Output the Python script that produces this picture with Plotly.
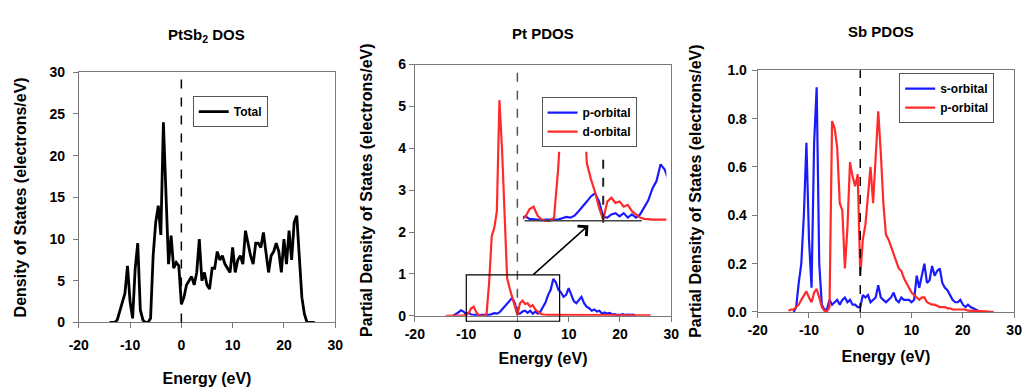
import numpy as np
import plotly.graph_objects as go

# Energy grid (eV), -14 ... 26 in 0.5 eV steps
energy = np.arange(-14, 26.5, 0.5)

# PtSb2 total DOS (electrons/eV)
total_dos = [
    0, 0, 0, 0.3, 1.3, 2.2, 3.5, 6.8, 2.5, 0.5,          # -14 .. -9.5
    6.5, 9.5, 1.5, 0.3, 0, 0, 0.5, 8, 12, 14,            # -9 .. -4.5
    10.5, 24, 16, 7, 10.4, 6.5, 7.2, 6.8, 2.2, 3,        # -4 .. 0.5
    4.5, 5, 5.5, 4.5, 6, 10, 5, 6, 4.5, 4,               # 1 .. 5.5
    6.5, 6.5, 8.5, 7.5, 8, 7, 6.5, 6, 9, 6,              # 6 .. 10.5
    7.5, 8, 7, 11, 9.5, 8, 7, 9.5, 9.5, 9,               # 11 .. 15.5
    10.8, 8.5, 6, 8, 8.5, 9.5, 8.5, 6, 10, 7,            # 16 .. 20.5
    11, 7.5, 12, 12.8, 8, 3, 1, 0, 0, 0,                 # 21 .. 25.5
    0,                                                   # 26
]

# Pt partial DOS
pt_p_orbital = [
    None, None, None, 0.0, 0.03, 0.08, 0.13, 0.10, 0.04, 0.07,
    0.03, 0.02, 0.01, 0.01, 0.02, 0.02, 0.03, 0.02, 0.04, 0.06,
    0.05, 0.08, 0.15, 0.22, 0.30, 0.38, 0.43, 0.30, 0.06, 0.05,
    0.10, 0.12, 0.07, 0.12, 0.05, 0.10, 0.05, 0.10, 0.20, 0.32,
    0.50, 0.62, 0.88, 0.80, 0.62, 0.56, 0.45, 0.50, 0.66, 0.48,
    0.35, 0.30, 0.38, 0.45, 0.30, 0.22, 0.18, 0.12, 0.15, 0.10,
    0.12, 0.05, 0.08, 0.05, 0.07, 0.03, 0.04, 0.02, 0.02, 0.04,
    0.02, 0.03, 0.02, 0.03, 0.01, None, None, None, None, None,
    None,
]
pt_d_orbital = [
    0.0, 0.0, 0.0, 0.0, 0.0, 0.0, 0.01, 0.01, 0.02, 0.06,
    0.18, 0.22, 0.08, 0.02, 0.0, 0.0, 0.05, 0.80, 1.90, 2.10,
    2.50, 5.15, 4.00, 2.20, 0.90, 0.65, 0.45, 0.20, 0.02, 0.30,
    0.36, 0.28, 0.30, 0.22, 0.25, 0.15, 0.10, 0.05, 0.03, 0.02,
    0.02, 0.02, 0.02, 0.02, 0.02, 0.02, 0.02, 0.02, 0.02, 0.02,
    0.02, 0.02, 0.02, 0.02, 0.02, 0.01, 0.01, 0.01, 0.01, 0.01,
    0.01, 0.01, 0.01, 0.01, 0.01, 0.01, 0.01, 0.01, 0.01, 0.01,
    0.01, 0.01, 0.01, 0.01, 0.01, 0.01, 0.01, 0.01, 0.01, 0.01,
    0.01,
]

# Sb partial DOS
sb_s_orbital = [
    None, None, 0.0, 0.02, 0.12, 0.20, 0.40, 0.70, 0.30, 0.10,
    0.70, 0.93, 0.20, 0.03, 0.01, 0.01, 0.05, 0.03, 0.04, 0.05,
    0.03, 0.05, 0.06, 0.04, 0.05, 0.03, 0.03, 0.02, 0.02, 0.07,
    0.06, 0.07, 0.04, 0.05, 0.06, 0.11, 0.06, 0.05, 0.04, 0.05,
    0.06, 0.08, 0.05, 0.04, 0.06, 0.05, 0.05, 0.05, 0.04, 0.05,
    0.15, 0.10, 0.15, 0.20, 0.12, 0.13, 0.19, 0.15, 0.17, 0.18,
    0.12, 0.10, 0.09, 0.07, 0.05, 0.04, 0.04, 0.05, 0.03, 0.02,
    0.03, 0.02, 0.015, 0.01, 0.005, 0.0, None, None, None, None,
    None,
]
sb_p_orbital = [
    0.005, 0.01, 0.01, 0.02, 0.03, 0.05, 0.07, 0.085, 0.06, 0.04,
    0.08, 0.095, 0.06, 0.02, 0.005, 0.002, 0.02, 0.79, 0.76, 0.68,
    0.45, 0.42, 0.18, 0.35, 0.62, 0.56, 0.52, 0.57, 0.15, 0.30,
    0.36, 0.50, 0.60, 0.45, 0.62, 0.83, 0.66, 0.45, 0.32, 0.30,
    0.27, 0.24, 0.21, 0.18, 0.17, 0.14, 0.12, 0.10, 0.08, 0.07,
    0.06, 0.05, 0.06, 0.06, 0.04, 0.035, 0.03, 0.03, 0.025, 0.02,
    0.02, 0.02, 0.015, 0.015, 0.01, 0.01, 0.01, 0.01, 0.01, 0.01,
    0.005, 0.005, 0.005, 0.005, 0.003, 0.003, 0.002, 0.002, 0.001, 0.0,
    0.0,
]

x_tickvals = [-20, -10, 0, 10, 20, 30]
x_ticktext = ["-20", "-10", "0", "10", "20", "30"]

FONT = "Liberation Sans, Arial, sans-serif"
BLUE = "#1a1aff"
RED = "#ff2a2a"
W, H = 1030, 388


def px(x):
    return x / W


def py(y):
    return 1 - y / H


fig = go.Figure()

# Panel 1
fig.add_trace(go.Scatter(x=energy, y=total_dos, mode="lines", name="Total",
                         line=dict(color="black", width=2.8),
                         xaxis="x", yaxis="y", legend="legend"))
# Panel 2
fig.add_trace(go.Scatter(x=energy, y=pt_p_orbital, mode="lines", name="p-orbital",
                         line=dict(color=BLUE, width=2.2),
                         xaxis="x2", yaxis="y2", legend="legend2"))
fig.add_trace(go.Scatter(x=energy, y=pt_d_orbital, mode="lines", name="d-orbital",
                         line=dict(color=RED, width=2.2),
                         xaxis="x2", yaxis="y2", legend="legend2"))
# Inset of panel 2
fig.add_trace(go.Scatter(x=energy, y=pt_p_orbital, mode="lines", showlegend=False,
                         line=dict(color=BLUE, width=2.2),
                         xaxis="x4", yaxis="y4"))
fig.add_trace(go.Scatter(x=energy, y=pt_d_orbital, mode="lines", showlegend=False,
                         line=dict(color=RED, width=2.2),
                         xaxis="x4", yaxis="y4"))
# Panel 3
fig.add_trace(go.Scatter(x=energy, y=sb_s_orbital, mode="lines", name="s-orbital",
                         line=dict(color=BLUE, width=2.2),
                         xaxis="x3", yaxis="y3", legend="legend3"))
fig.add_trace(go.Scatter(x=energy, y=sb_p_orbital, mode="lines", name="p-orbital",
                         line=dict(color=RED, width=2.2),
                         xaxis="x3", yaxis="y3", legend="legend3"))

tickfont = dict(family=FONT, size=14, color="black", weight="bold")
titlefont = dict(family=FONT, size=16, color="black", weight="bold")
paneltitlefont = dict(family=FONT, size=15, color="black", weight="bold")

ax_common = dict(showline=True, linecolor="#7a7a7a", linewidth=1, mirror=True,
                 ticks="outside", ticklen=5, tickcolor="#7a7a7a",
                 showgrid=False, zeroline=False, tickfont=tickfont)


def xax(domain, anchor, standoff, labelgap):
    return dict(ax_common, domain=domain, anchor=anchor, range=[-20, 30],
                tickvals=x_tickvals, ticktext=x_ticktext,
                ticklabelstandoff=labelgap,
                title=dict(text="Energy (eV)", font=titlefont, standoff=standoff))


def yax(domain, anchor, rng, dtick, title, standoff, labelgap, fmt=None):
    d = dict(ax_common, domain=domain, anchor=anchor, range=rng, dtick=dtick, tick0=0,
             ticklabelstandoff=labelgap,
             title=dict(text=title, font=titlefont, standoff=standoff))
    if fmt:
        d["tickformat"] = fmt
    return d


legend_common = dict(bgcolor="white", bordercolor="#555555", borderwidth=1,
                     font=dict(family=FONT, size=12, color="black", weight="bold"),
                     xanchor="left", yanchor="top", itemwidth=30,
                     tracegroupgap=0)

fig.update_layout(
    width=W, height=H,
    margin=dict(l=0, r=0, t=0, b=0),
    paper_bgcolor="white", plot_bgcolor="white",
    xaxis=xax([px(70), px(331)], "y", 20, 5),
    yaxis=yax([py(328), py(67)], "x", [0, 30], 5,
              "Density of States (electrons/eV)", 18, 5),
    xaxis2=xax([px(412), px(673)], "y2", 12, 0),
    yaxis2=yax([py(321), py(59)], "x2", [0, 6], 1,
               "Partial Density of States (electrons/eV)", 21, 0),
    xaxis3=xax([px(761), px(1022)], "y3", 14, 0),
    yaxis3=yax([py(317), py(65)], "x3", [0, 1.0], 0.2,
               "Partial Density of States (electrons/eV)", 21, 2, fmt=".1f"),
    xaxis4=dict(domain=[px(522), px(668)], anchor="y4", range=[-9.8, 7.7],
                visible=False, showgrid=False, zeroline=False),
    yaxis4=dict(domain=[py(225), py(150)], anchor="x4", range=[-0.045, 1.075],
                visible=False, showgrid=False, zeroline=False),
    legend=dict(legend_common, x=px(186), y=py(92)),
    legend2=dict(legend_common, x=px(541), y=py(93)),
    legend3=dict(legend_common, x=px(905), y=py(68)),
    showlegend=True,
)

# Fermi level (E = 0) dashed markers
fig.add_shape(type="line", xref="x", yref="y domain", x0=0, x1=0, y0=0, y1=1,
              line=dict(color="black", width=1.5, dash="dash"))
fig.add_shape(type="line", xref="x2", yref="y2 domain", x0=0, x1=0, y0=0, y1=1,
              line=dict(color="#555555", width=1.5, dash="dash"))
fig.add_shape(type="line", xref="x3", yref="y3 domain", x0=0, x1=0, y0=0, y1=1,
              line=dict(color="black", width=1.5, dash="dash"))
fig.add_shape(type="line", xref="x4", yref="y4", x0=0, x1=0, y0=-0.03, y1=0.97,
              line=dict(color="#222222", width=2, dash="dash"))
# Inset baseline
fig.add_shape(type="line", xref="x4", yref="y4", x0=-9.6, x1=4.7, y0=0, y1=0,
              line=dict(color="#444444", width=1.5))
# Zoomed region box in panel 2
fig.add_shape(type="rect", xref="x2", yref="paper", x0=-9.96, x1=8.24,
              y0=py(326.7), y1=py(278.3), line=dict(color="black", width=1.2))

# Arrow to inset
fig.add_annotation(x=13.85, y=2.16, xref="x2", yref="y2", text="",
                   showarrow=True, arrowhead=4, arrowsize=1.6, arrowwidth=1.6,
                   arrowcolor="black", ax=-56.6, ay=50.6)

# Panel titles
for txt, xc, yc in [("PtSb<sub>2</sub> DOS", 200, 29),
                    ("Pt PDOS", 542, 27),
                    ("Sb PDOS", 887, 24)]:
    fig.add_annotation(x=px(xc), y=py(yc), xref="paper", yref="paper", text=txt,
                       showarrow=False, xanchor="center", yanchor="middle",
                       font=paneltitlefont)

fig.write_html("out.html")
